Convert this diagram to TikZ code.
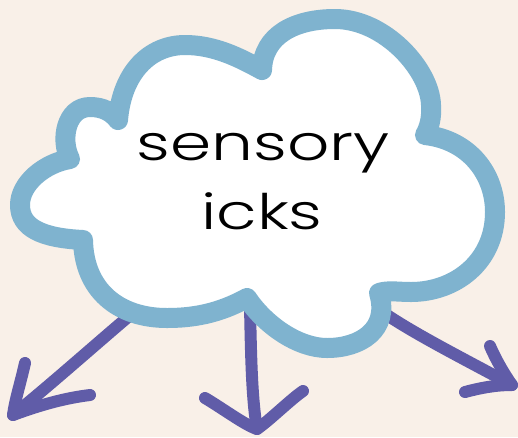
\documentclass[tikz,border=0pt]{standalone}
\usepackage{fontspec}
\setmainfont{Poppins}[UprightFont=* Light]
\definecolor{bgc}{RGB}{249,240,232}
\definecolor{cloudc}{RGB}{127,179,207}
\definecolor{arrc}{RGB}{96,92,168}
\tikzset{
  arrline/.style={draw=arrc, line width=12pt, line cap=round, line join=round},
  cloudline/.style={draw=cloudc, fill=white, line width=20pt, line join=round},
  lbl/.style={anchor=base, inner sep=0pt, font=\fontsize{49}{55}\selectfont}
}
\begin{document}
\begin{tikzpicture}[x=1pt,y=-1pt]
\fill[bgc] (0,0) rectangle (518,437);
\useasboundingbox (0,0) rectangle (518,437);
% arrows (under the cloud)
\coordinate (s1) at (128,317);
\coordinate (t1) at (13,415);
\coordinate (a1) at (25,363);
\coordinate (b1) at (90,395);
\coordinate (s2) at (250,305);
\coordinate (t2) at (257,429);
\coordinate (a2) at (205,398);
\coordinate (b2) at (303,391);
\coordinate (s3) at (387,315);
\coordinate (t3) at (512,385);
\coordinate (a3) at (490,346);
\coordinate (b3) at (465,392);
\draw[arrline] (s1) .. controls (95,345) and (50,385) .. (t1);
\draw[arrline] (a1) .. controls (20,385) and (15,400) .. (t1) .. controls (40,405) and (65,398) .. (b1);
\draw[arrline] (s2) .. controls (251,360) and (252,400) .. (t2);
\draw[arrline] (a2) .. controls (225,410) and (245,425) .. (t2) .. controls (270,420) and (290,400) .. (b2);
\draw[arrline] (s3) .. controls (420,337) and (470,362) .. (t3);
\draw[arrline] (a3) .. controls (497,362) and (505,375) .. (t3) .. controls (495,385) and (480,388) .. (b3);
% cloud
\coordinate (n1) at (262,70);
\coordinate (n2) at (425,135);
\coordinate (n3) at (379,293);
\coordinate (n4) at (247,298);
\coordinate (n5) at (83,240);
\coordinate (n6) at (70,159);
\coordinate (n7) at (118,120);
\draw[cloudline] (n1)
  .. controls (263,35) and (295,19) .. (335,19)
  .. controls (385,19) and (430,70) .. (431,105)
  .. controls (432,118) and (429,128) .. (n2)
  .. controls (470,140) and (495,175) .. (495,212)
  .. controls (495,262) and (455,292) .. (411,292)
  .. controls (398,292) and (388,290) .. (n3)
  .. controls (390,330) and (360,348) .. (327,348)
  .. controls (298,348) and (265,325) .. (n4)
  .. controls (218,314) and (192,318) .. (167,318)
  .. controls (118,318) and (84,290) .. (n5)
  .. controls (42,238) and (20,228) .. (20,205)
  .. controls (20,183) and (45,163) .. (n6)
  .. controls (60,140) and (66,107) .. (90,107)
  .. controls (103,107) and (112,112) .. (n7)
  .. controls (122,72) and (150,45) .. (185,45)
  .. controls (215,45) and (240,58) .. cycle;
% text
\node[lbl] (l1) at (263,160) {\scalebox{1.35}[1]{sensory}};
\node[lbl] (l2) at (262,229) {\scalebox{1.35}[1]{icks}};
\end{tikzpicture}
\end{document}
